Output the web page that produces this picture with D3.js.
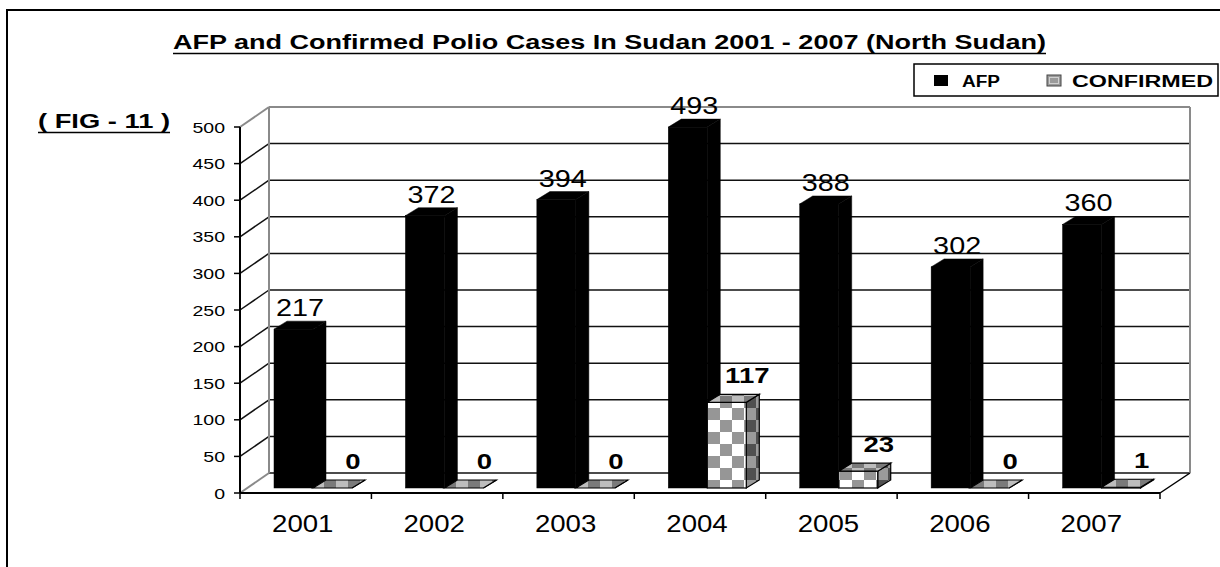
<!DOCTYPE html>
<html>
<head>
<meta charset="utf-8">
<script src="https://cdnjs.cloudflare.com/ajax/libs/d3/7.8.5/d3.min.js"></script>
<style>
  html, body { margin: 0; padding: 0; background: #fff; }
  svg { display: block; font-family: "Liberation Sans", Arial, sans-serif; }
</style>
</head>
<body>
<svg id="chart" width="1220" height="567"></svg>
<script>
// ---- Data ----
const years = ["2001", "2002", "2003", "2004", "2005", "2006", "2007"];
const afp = [217, 372, 394, 493, 388, 302, 360];
const confirmed = [0, 0, 0, 117, 23, 0, 1];
const yTicks = [0, 50, 100, 150, 200, 250, 300, 350, 400, 450, 500];
const seriesNames = ["AFP", "CONFIRMED"];
const titleText = "AFP and Confirmed Polio Cases In Sudan 2001 - 2007 (North Sudan)";
const figText = "( FIG - 11 )";

// ---- Layout ----
const svg = d3.select("#chart");
const DX = 29, DY = 20;           // wall depth
const BDX = 13, BDY = 8;          // bar depth
const BASE_SHIFT = 5;             // bars sit slightly behind the front floor edge
const x = d3.scaleBand().domain(years).range([240, 1160]);
const y = d3.scaleLinear().domain([0, 500]).range([493, 127]);
const barW = 39;

// pattern (checker) definitions
const defs = svg.append("defs");
function checker(id, c1, c2, s) {
  const p = defs.append("pattern").attr("id", id).attr("patternUnits", "userSpaceOnUse")
    .attr("width", s * 2).attr("height", s * 2);
  p.append("rect").attr("width", s * 2).attr("height", s * 2).attr("fill", c1);
  p.append("rect").attr("x", s).attr("width", s).attr("height", s).attr("fill", c2);
  p.append("rect").attr("y", s).attr("width", s).attr("height", s).attr("fill", c2);
}
checker("chkFront", "#ffffff", "#969696", 12);
checker("chkSide", "#9a9a9a", "#505050", 12);
checker("chkTop", "#bdbdbd", "#7a7a7a", 12);

// text helper with horizontal stretch
function label(x0, y0, s, size, opts = {}) {
  const t = svg.append("text")
    .attr("transform", `translate(${x0},${y0}) scale(${opts.sx || 1},1)`)
    .attr("font-size", size)
    .attr("font-weight", opts.bold ? "bold" : "normal")
    .attr("text-anchor", opts.anchor || "middle")
    .attr("fill", "#000")
    .text(s);
  if (opts.len) t.attr("textLength", opts.len).attr("lengthAdjust", "spacingAndGlyphs");
  return t;
}

// ---- Outer border ----
svg.append("path").attr("d", "M7,567 L7,10 L1220,10")
  .attr("fill", "none").attr("stroke", "#000").attr("stroke-width", 2);

// ---- Title ----
label(173, 49, titleText, 20, { bold: true, anchor: "start", len: 873 });
svg.append("line").attr("x1", 173).attr("x2", 1046).attr("y1", 53.5).attr("y2", 53.5)
  .attr("stroke", "#000").attr("stroke-width", 1.5);

// ---- FIG label ----
label(38, 128, figText, 20, { bold: true, anchor: "start", len: 132 });
svg.append("line").attr("x1", 38).attr("x2", 170).attr("y1", 132.5).attr("y2", 132.5)
  .attr("stroke", "#000").attr("stroke-width", 1.5);

// ---- Walls ----
const x0 = x.range()[0], x1 = x.range()[1];
const gWall = svg.append("g");
// back wall gridlines
yTicks.forEach(t => {
  const yy = y(t) - DY;
  const isEdge = (t === 500);
  gWall.append("line").attr("x1", x0 + DX).attr("x2", x1 + DX + 1).attr("y1", yy).attr("y2", yy)
    .attr("stroke", isEdge ? "#8a8a8a" : "#111").attr("stroke-width", isEdge ? 2 : 1.5);
  // side wall diagonals
  gWall.append("line").attr("x1", x0).attr("y1", y(t)).attr("x2", x0 + DX).attr("y2", yy)
    .attr("stroke", (t === 500 || t === 0) ? "#8a8a8a" : "#111").attr("stroke-width", (t === 500 || t === 0) ? 2 : 1.5);
});
// wall vertical edges
gWall.append("line").attr("x1", x0 + DX).attr("x2", x0 + DX).attr("y1", y(500) - DY).attr("y2", y(0) - DY)
  .attr("stroke", "#8a8a8a").attr("stroke-width", 2);
gWall.append("line").attr("x1", x1 + DX + 1).attr("x2", x1 + DX + 1).attr("y1", y(500) - DY).attr("y2", y(0) - DY)
  .attr("stroke", "#8a8a8a").attr("stroke-width", 2);
// floor right edge
gWall.append("line").attr("x1", x1).attr("y1", y(0)).attr("x2", x1 + DX + 1).attr("y2", y(0) - DY)
  .attr("stroke", "#000").attr("stroke-width", 1.5);

// ---- Bars ----
const gBars = svg.append("g");
function drawBar(xl, v, kind) {
  const base = y(0) - BASE_SHIFT;
  const top = base - (y(0) - y(v));
  const xr = xl + barW;
  const black = kind === "afp";
  const stroke = black ? "#000" : "#000";
  // side face
  gBars.append("path")
    .attr("d", `M${xr},${top} L${xr + BDX},${top - BDY} L${xr + BDX},${base - BDY} L${xr},${base} Z`)
    .attr("fill", black ? "#000" : "url(#chkSide)").attr("stroke", stroke).attr("stroke-width", black ? 0.5 : 1.2);
  // front face
  gBars.append("rect").attr("x", xl).attr("y", top).attr("width", barW).attr("height", base - top)
    .attr("fill", black ? "#000" : "url(#chkFront)").attr("stroke", stroke).attr("stroke-width", black ? 0.5 : 1.2);
  // top face
  gBars.append("path")
    .attr("d", `M${xl},${top} L${xl + BDX},${top - BDY} L${xr + BDX},${top - BDY} L${xr},${top} Z`)
    .attr("fill", black ? "#000" : "url(#chkTop)").attr("stroke", stroke).attr("stroke-width", black ? 0.5 : 1.2);
  return { top: top - BDY, cx: xl + (barW + BDX) / 2 };
}

years.forEach((yr, i) => {
  const bx = x(yr);
  const a = drawBar(bx + 34, afp[i], "afp");
  label(a.cx, a.top - 5, String(afp[i]), 24, { sx: 1.2 });
  const c = drawBar(bx + 73, confirmed[i], "conf");
  label(c.cx + 14, c.top - 11, String(confirmed[i]), 22, { bold: true, sx: 1.25 });
});

// ---- Axes ----
const gAxis = svg.append("g");
gAxis.append("line").attr("x1", x0).attr("x2", x0).attr("y1", y(500)).attr("y2", y(0))
  .attr("stroke", "#000").attr("stroke-width", 2);
yTicks.forEach(t => {
  gAxis.append("line").attr("x1", x0 - 6).attr("x2", x0).attr("y1", y(t)).attr("y2", y(t))
    .attr("stroke", "#000").attr("stroke-width", 1.5);
  label(225, y(t) + 5.5, String(t), 15, { anchor: "end", sx: 1.3 });
});
gAxis.append("line").attr("x1", x0).attr("x2", x1).attr("y1", y(0)).attr("y2", y(0))
  .attr("stroke", "#000").attr("stroke-width", 2);
const bounds = years.map(v => x(v)).concat([x1]);
bounds.forEach(b => {
  gAxis.append("line").attr("x1", b).attr("x2", b).attr("y1", y(0)).attr("y2", y(0) + 6)
    .attr("stroke", "#000").attr("stroke-width", 1.5);
});
years.forEach(yr => {
  label(x(yr) + x.bandwidth() / 2 - 3, 532, yr, 23, { sx: 1.2 });
});

// ---- Legend ----
const lg = svg.append("g");
lg.append("rect").attr("x", 914).attr("y", 64).attr("width", 304).attr("height", 32)
  .attr("fill", "#fff").attr("stroke", "#000").attr("stroke-width", 1.5);
lg.append("rect").attr("x", 934).attr("y", 75).attr("width", 14).attr("height", 11).attr("fill", "#000");
label(962, 87, seriesNames[0], 16, { bold: true, anchor: "start", len: 38 });
lg.append("rect").attr("x", 1047).attr("y", 75).attr("width", 14).attr("height", 11)
  .attr("fill", "#9a9a9a").attr("stroke", "#444").attr("stroke-width", 1);
lg.append("rect").attr("x", 1049.5).attr("y", 77.5).attr("width", 9).attr("height", 6)
  .attr("fill", "none").attr("stroke", "#d0d0d0").attr("stroke-width", 1);
label(1072, 87, seriesNames[1], 16, { bold: true, anchor: "start", len: 141 });
</script>
</body>
</html>
